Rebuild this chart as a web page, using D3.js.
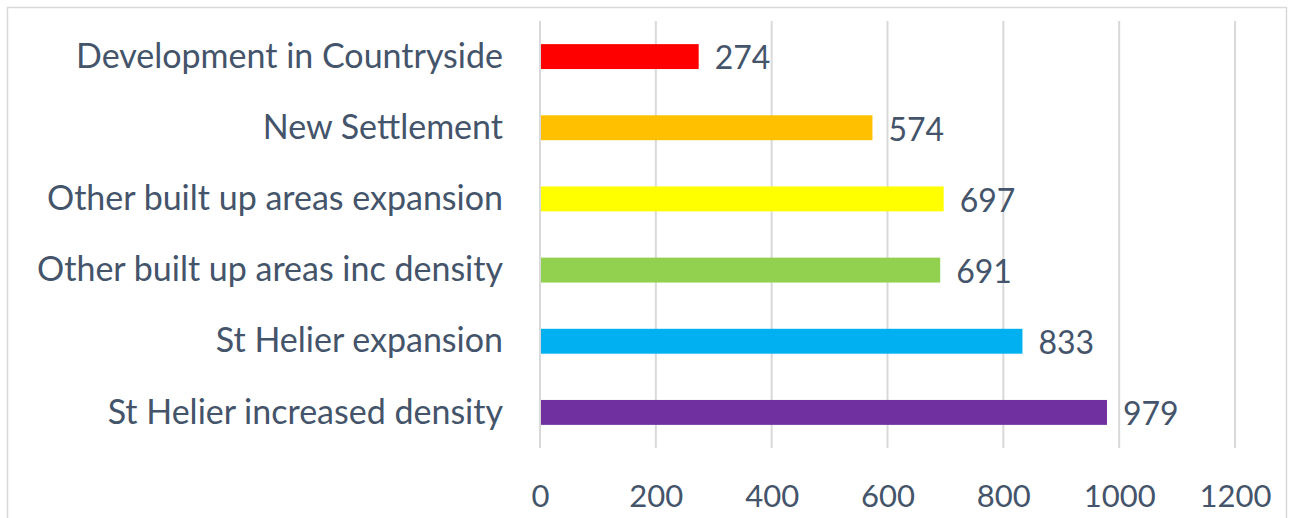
<!DOCTYPE html>
<html>
<head>
<meta charset="utf-8">
<script src="https://cdn.jsdelivr.net/npm/d3@7"></script>
<style>
  body { margin: 0; background: #fff; }
  svg text { font-family: Lato, "Open Sans", sans-serif; fill: #44546a; }
</style>
</head>
<body>
<svg id="chart"></svg>
<script>
// data, top to bottom as shown
var categories = [
  "Development in Countryside",
  "New Settlement",
  "Other built up areas expansion",
  "Other built up areas inc density",
  "St Helier expansion",
  "St Helier increased density",
];
var values = [274, 574, 697, 691, 833, 979];
var barColors = ["#ff0000", "#ffc000", "#ffff00", "#92d050", "#00b0f0", "#7030a0"];
var xTicks = [0, 200, 400, 600, 800, 1000, 1200];

var width = 1290, height = 518;
var margin = { left: 540, right: 55, top: 21, bottom: 70 };

var svg = d3.select("#chart").attr("width", width).attr("height", height);

// chart border (bottom edge falls off the picture)
svg.append("rect")
  .attr("x", 7.5).attr("y", 7.5)
  .attr("width", 1279).attr("height", 530)
  .attr("fill", "none")
  .attr("stroke", "#d9d9d9")
  .attr("stroke-width", 1.5);

var x = d3.scaleLinear().domain([0, 1200]).range([margin.left, width - margin.right]);
var y = d3.scaleBand().domain(categories)
  .range([margin.top, height - margin.bottom])
  .paddingInner(0.65).paddingOuter(0.325);

// gridlines
svg.append("g")
  .selectAll("line")
  .data(xTicks)
  .enter()
  .append("line")
  .attr("x1", (d) => x(d)).attr("x2", (d) => x(d))
  .attr("y1", margin.top).attr("y2", height - margin.bottom)
  .attr("stroke", "#d9d9d9")
  .attr("stroke-width", 2);

// bars
svg.append("g")
  .selectAll("rect")
  .data(values)
  .enter()
  .append("rect")
  .attr("x", x(0) + 1)
  .attr("y", (d, i) => y(categories[i]))
  .attr("width", (d) => x(d) - x(0) - 1)
  .attr("height", y.bandwidth())
  .attr("fill", (d, i) => barColors[i]);

// value labels
svg.append("g")
  .selectAll("text")
  .data(values)
  .enter()
  .append("text")
  .attr("x", (d) => x(d) + 16)
  .attr("y", (d, i) => y(categories[i]) + y.bandwidth() / 2)
  .attr("dy", "0.4em")
  .style("font-size", "32px")
  .text((d) => d);

// category labels
svg.append("g")
  .selectAll("text")
  .data(categories)
  .enter()
  .append("text")
  .attr("x", 503)
  .attr("y", (d) => y(d) + y.bandwidth() / 2)
  .attr("dy", "0.33em")
  .attr("text-anchor", "end")
  .style("font-size", "34px")
  .text((d) => d);

// x axis labels
var xAxis = d3.axisBottom(x).tickValues(xTicks).tickFormat(d3.format("d")).tickSize(0).tickPadding(0);
var axisG = svg.append("g")
  .attr("transform", `translate(0,${height - margin.bottom})`)
  .call(xAxis);
axisG.select(".domain").remove();
axisG.selectAll("text")
  .attr("y", 59)
  .attr("dy", 0)
  .style("font-size", "31px")
  .attr("fill", "#44546a");
</script>
</body>
</html>
